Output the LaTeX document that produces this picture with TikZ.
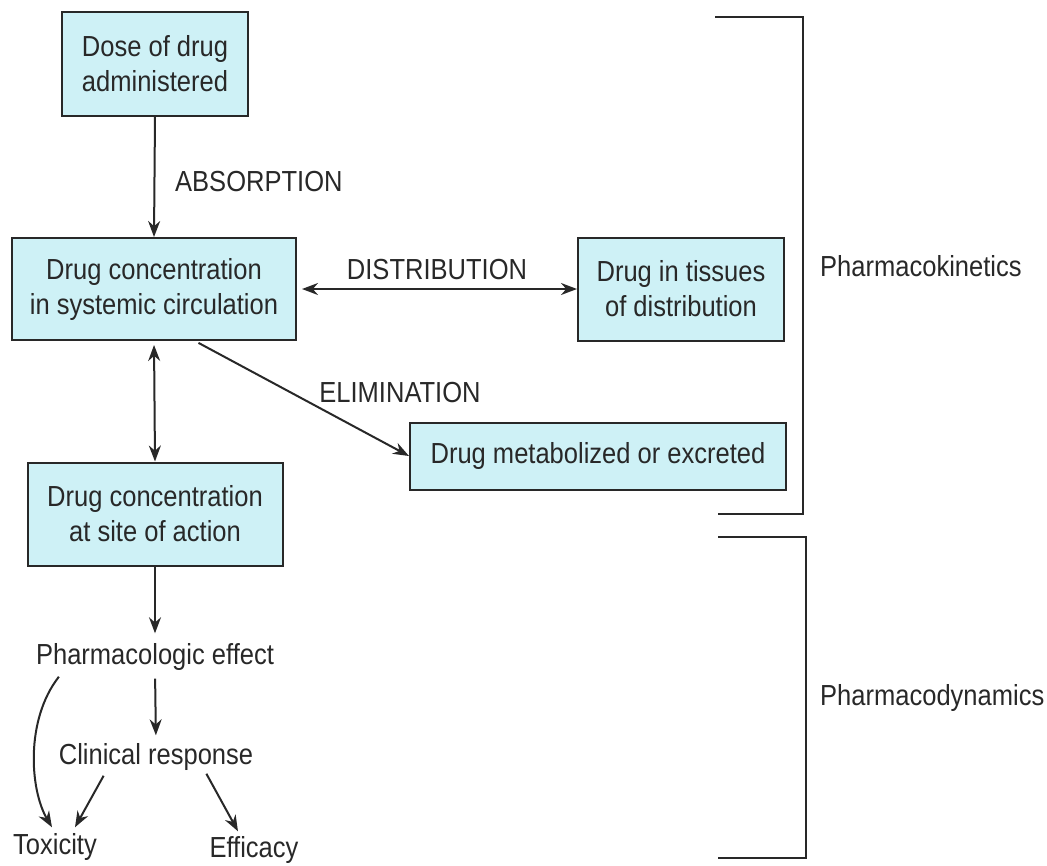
\documentclass[tikz,border=0pt]{standalone}
\usepackage{fontspec}
\setmainfont[FakeStretch=0.88]{Liberation Sans}
\usetikzlibrary{arrows.meta}
\definecolor{boxcyan}{RGB}{206,241,246}
\definecolor{inkgray}{RGB}{40,40,40}

\begin{document}
\begin{tikzpicture}[x=1pt,y=-1pt,
  every node/.style={font=\fontsize{29}{35}\selectfont, text=inkgray},
  box/.style={draw=inkgray, line width=2pt, fill=boxcyan, align=center, inner sep=0pt},
  arr/.style={draw=inkgray, line width=2pt, -{Stealth[length=16pt,width=12pt]}},
  darr/.style={arr, {Stealth[length=16pt,width=12pt]}-{Stealth[length=16pt,width=12pt]}},
  brk/.style={draw=inkgray, line width=2.4pt}]
\useasboundingbox (0,0) rectangle (1047,865);
% boxes
\node[box, minimum width=186pt, minimum height=104pt] (dose) at (155,64) {Dose of drug\\administered};
\node[box, minimum width=284pt, minimum height=102pt] (circ) at (154,289) {Drug concentration\\in systemic circulation};
\node[box, minimum width=206pt, minimum height=103pt] (tissue) at (681,289) {Drug in tissues\\of distribution};
\node[box, minimum width=376pt, minimum height=67pt] (elim) at (598,456) {Drug metabolized or excreted};
\node[box, minimum width=255pt, minimum height=103pt] (site) at (155,514) {Drug concentration\\at site of action};
% plain texts
\node[inner sep=0pt] (effect) at (155,657) {Pharmacologic effect};
\node[inner sep=0pt] (resp) at (156,757) {Clinical response};
\node[inner sep=0pt] (tox) at (55,847) {Toxicity};
\node[inner sep=0pt] (eff) at (254,850) {Efficacy};
\node[inner sep=0pt, anchor=west] (absorb) at (175,182) {ABSORPTION};
\node[inner sep=0pt] (distr) at (437,270) {DISTRIBUTION};
\node[inner sep=0pt] (elimlab) at (400,393) {ELIMINATION};
\node[inner sep=0pt, anchor=west] (kin) at (820,266) {Pharmacokinetics};
\node[inner sep=0pt, anchor=west] (dyn) at (820,698) {Pharmacodynamics};
% connectors
\draw[arr] (dose.south) -- (circ.north);
\draw[darr, shorten <=5pt] (circ.east) -- (tissue.west);
\draw[arr, shorten <=4pt] ([xshift=41pt]circ.south) -- (elim.west);
\draw[darr, shorten <=4pt] (circ.south) -- (site.north);
\draw[arr, shorten >=10pt] (site.south) -- (effect.north);
\draw[arr, shorten <=8pt, shorten >=8pt] (effect.south) -- (resp.north);
\draw[arr] ([xshift=23pt,yshift=-6pt]effect.south west) .. controls (25,720) and (30,790) .. ([xshift=-3pt,yshift=6pt]tox.north);
\draw[arr] ([xshift=45pt,yshift=-5pt]resp.south west) -- ([xshift=20pt,yshift=6pt]tox.north);
\draw[arr] ([xshift=-47pt,yshift=-3pt]resp.south east) -- ([xshift=-16pt,yshift=5pt]eff.north);
% brackets
\draw[brk] (715,17) -- (803,17) -- (803,514) -- (718,514);
\draw[brk] (718,537) -- (806,537) -- (806,858) -- (718,858);
\end{tikzpicture}
\end{document}
